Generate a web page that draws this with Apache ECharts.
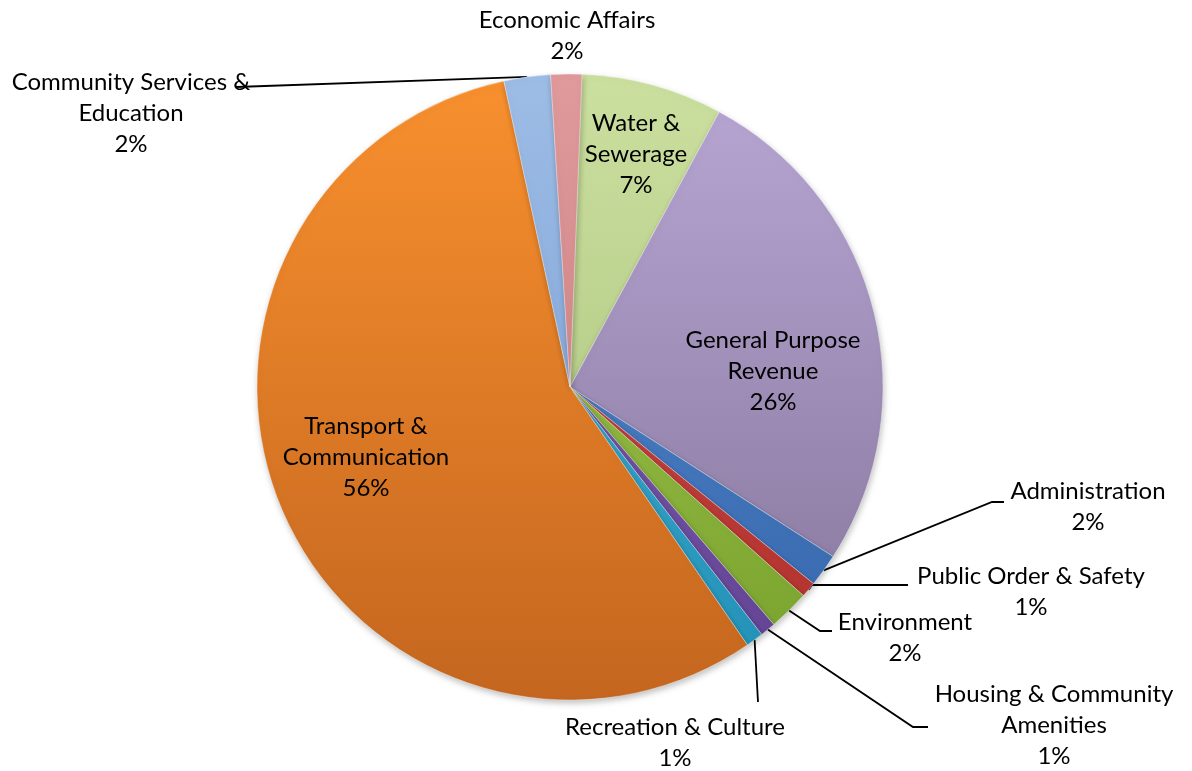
<!DOCTYPE html>
<html>
<head>
<meta charset="utf-8">
<script src="https://cdn.jsdelivr.net/npm/echarts@6/dist/echarts.min.js"></script>
<style>
  html, body { margin: 0; padding: 0; background: #fff; }
  #chart { width: 1192px; height: 771px; }
</style>
</head>
<body>
<div id="chart"></div>
<script>
// slices clockwise from 12 o'clock
const categories = [
  "Water &\nSewerage",
  "General Purpose\nRevenue",
  "Administration",
  "Public Order & Safety",
  "Environment",
  "Housing & Community\nAmenities",
  "Recreation & Culture",
  "Transport &\nCommunication",
  "Community Services &\nEducation",
  "Economic Affairs",
];
const shares = [7.3, 26.2, 1.7, 0.8, 2.1, 0.8, 0.9, 56.2, 2.4, 1.6];

// light (top of pie) -> dark (bottom of pie)
const palette = [
  ["#cbe09f", "#a6bd77"],
  ["#b8a7d4", "#84749a"],
  ["#5a90d4", "#3464ab"],
  ["#dc5650", "#ad2e2a"],
  ["#a8cf56", "#77a02c"],
  ["#8c6cc0", "#604191"],
  ["#4dbde2", "#218fb5"],
  ["#f8902e", "#c4661f"],
  ["#9dbde6", "#7597cf"],
  ["#e09a9c", "#c27676"],
];

const CX = 570, CY = 387, R = 313;

// label block centres and leader-line bends (after the pie edge point)
const labelSpots = {
  "Water &\nSewerage": { x: 636, y: 154 },
  "General Purpose\nRevenue": { x: 773, y: 371 },
  "Transport &\nCommunication": { x: 366, y: 457 },
  "Economic Affairs": { x: 567, y: 36 },
  "Community Services &\nEducation": { x: 131, y: 113, line: [[236, 87]] },
  "Administration": { x: 1088, y: 507, line: [[992, 502], [1004, 502]] },
  "Public Order & Safety": { x: 1031, y: 592, line: [[812, 585], [908, 585]] },
  "Environment": { x: 905, y: 638, line: [[820, 631], [832, 631]] },
  "Housing & Community\nAmenities": { x: 1054, y: 725, line: [[913, 727], [928, 727]] },
  "Recreation & Culture": { x: 675, y: 743, line: [[758, 702]] },
};
const insideNames = ["Water &\nSewerage", "General Purpose\nRevenue", "Transport &\nCommunication"];

const chart = echarts.init(document.getElementById("chart"), null, { renderer: "canvas" });

const data = categories.map((name, i) => ({
  name: name,
  value: shares[i],
  itemStyle: {
    color: new echarts.graphic.LinearGradient(0, CY - R, 0, CY + R, [
      { offset: 0, color: palette[i][0] },
      { offset: 1, color: palette[i][1] },
    ], true),
  },
  label: { position: insideNames.includes(name) ? "inside" : "outside" },
  labelLine: { show: !!labelSpots[name].line },
}));

chart.setOption({
  animation: false,
  series: [
    {
      type: "pie",
      center: [CX, CY],
      radius: R,
      startAngle: 87.8,
      clockwise: true,
      avoidLabelOverlap: false,
      data: data,
      itemStyle: {
        borderColor: "rgba(255,255,255,0.35)",
        borderWidth: 1,
        shadowBlur: 6,
        shadowOffsetX: 1,
        shadowOffsetY: 3,
        shadowColor: "rgba(0,0,0,0.25)",
      },
      label: {
        color: "#000",
        fontFamily: "Lato",
        fontSize: 24,
        lineHeight: 31,
        align: "center",
        formatter: (p) => p.name + "\n" + Math.round(p.percent) + "%",
      },
      labelLine: {
        lineStyle: { color: "#000", width: 1.8 },
      },
      labelLayout: (params) => {
        const spot = labelSpots[categories[params.dataIndex]];
        const out = { x: spot.x, y: spot.y, align: "center", verticalAlign: "middle" };
        if (spot.line && params.labelLinePoints) {
          out.labelLinePoints = [params.labelLinePoints[0]].concat(spot.line);
        }
        return out;
      },
      emphasis: { disabled: true },
    },
  ],
});
</script>
</body>
</html>
